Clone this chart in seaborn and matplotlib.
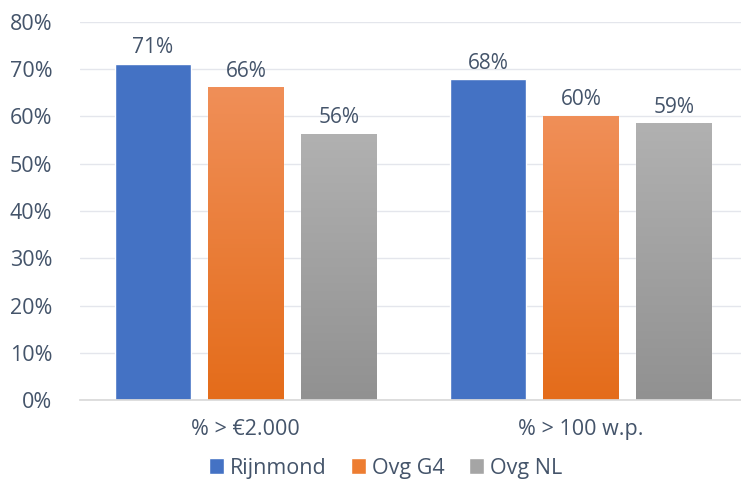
import matplotlib.pyplot as plt
import matplotlib.colors as mcolors
import numpy as np
import pandas as pd
import seaborn as sns

sns.set_theme(style="white")
plt.rcParams['font.family'] = ['Open Sans', 'DejaVu Sans']

# data
categories = ["% > €2.000", "% > 100 w.p."]
series = ["Rijnmond", "Ovg G4", "Ovg NL"]
rijnmond = [71.1, 67.9]
ovg_g4 = [66.2, 60.1]
ovg_nl = [56.3, 58.6]

df = pd.DataFrame({
    "cat": categories * 3,
    "serie": [s for s in series for _ in categories],
    "val": rijnmond + ovg_g4 + ovg_nl,
})

text_col = "#44546A"
palette = {"Rijnmond": "#4472C4", "Ovg G4": "#ED7D31", "Ovg NL": "#A5A5A5"}
gradients = {
    "Ovg G4": ("#F08F58", "#E46C1A"),
    "Ovg NL": ("#B1B1B1", "#919191"),
}

fig = plt.figure(figsize=(7.41, 4.83), dpi=100)
ax = fig.add_axes([80 / 741, 1 - 400 / 483, 661 / 741, 378 / 483])

sns.barplot(data=df, x="cat", y="val", hue="serie", palette=palette,
            width=0.832, gap=0.19, ax=ax, legend=True, saturation=1)

ax.set_ylim(0, 80)
ax.set_xlim(-0.495, 1.478)
ax.set_yticks(range(0, 81, 10))
ax.set_yticklabels([f"{v}%" for v in range(0, 81, 10)])
ax.grid(axis="y", color="#E4E6EC", linewidth=1)
ax.set_axisbelow(True)
for s in ["top", "right", "left"]:
    ax.spines[s].set_visible(False)
ax.spines["bottom"].set_color("#D9D9D9")
ax.tick_params(axis="y", length=0, pad=20, labelsize=15.5, labelcolor=text_col)
ax.tick_params(axis="x", length=0, pad=14, labelsize=15.5, labelcolor=text_col)
ax.set_xlabel("")
ax.set_ylabel("")

# gradient fill for orange / gray bars, labels on all
for cont, name in zip(ax.containers, series):
    for bar in cont:
        x0, y0 = bar.get_x(), bar.get_y()
        w, h = bar.get_width(), bar.get_height()
        if name in gradients:
            top, bot = gradients[name]
            cmap = mcolors.LinearSegmentedColormap.from_list(name, [bot, top])
            grad = np.linspace(0, 1, 256).reshape(-1, 1)
            im = ax.imshow(grad, cmap=cmap, aspect="auto", origin="lower",
                           extent=(x0, x0 + w, y0, y0 + h), zorder=bar.get_zorder() + 0.1)
            im.set_clip_path(bar)
        ax.annotate(f"{h:.0f}%", (x0 + w / 2, y0 + h), xytext=(0, 4),
                    textcoords="offset points", ha="center", va="bottom",
                    fontsize=15, color=text_col)
ax.set_xlim(-0.495, 1.478)
ax.set_ylim(0, 80)

leg = ax.legend(loc="center", bbox_to_anchor=(0.5 - 25 / 661, -0.18), ncol=3,
                frameon=False, fontsize=15.5, handlelength=0.7, handleheight=0.7,
                handletextpad=0.3, columnspacing=1.1)
for t in leg.get_texts():
    t.set_color(text_col)

fig.savefig("out.png", dpi=100)
